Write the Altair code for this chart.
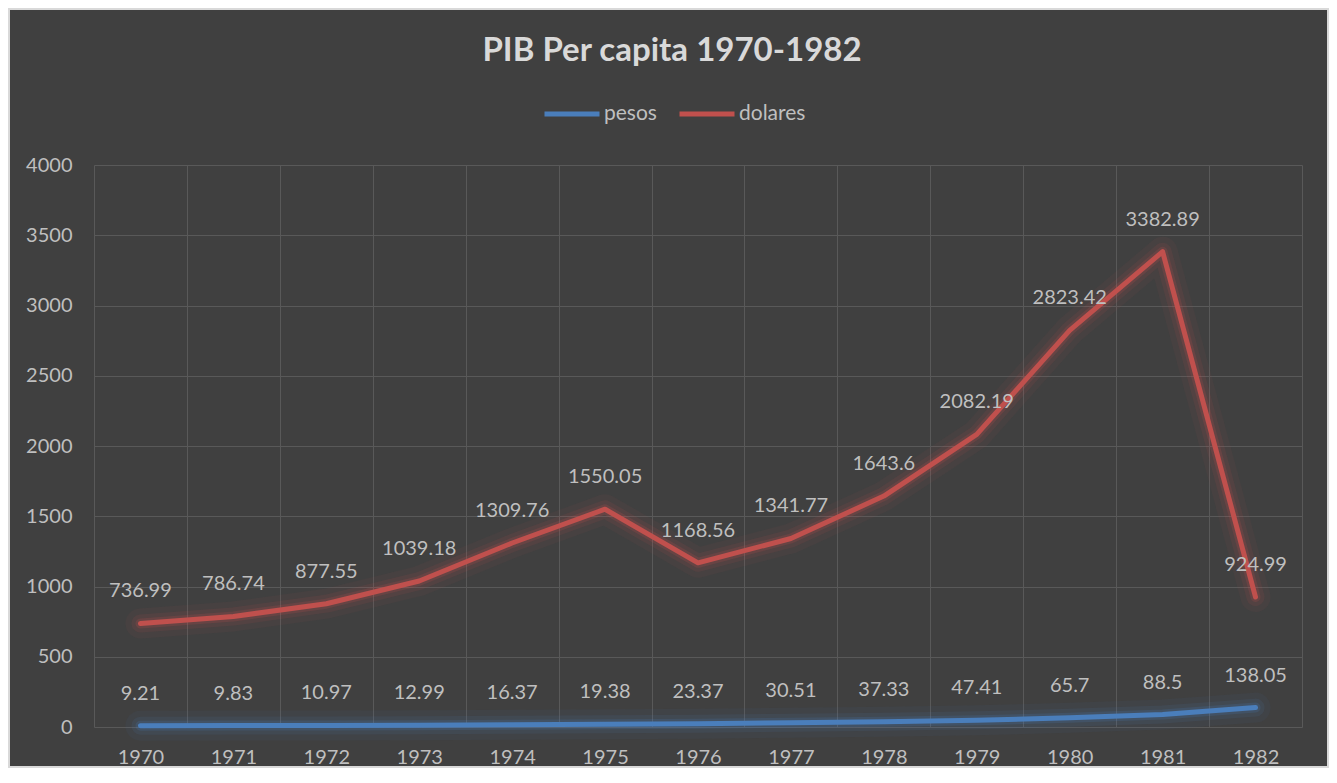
import altair as alt
import pandas as pd

years = [str(y) for y in range(1970, 1983)]
pesos = [9.21, 9.83, 10.97, 12.99, 16.37, 19.38, 23.37, 30.51, 37.33, 47.41, 65.7, 88.5, 138.05]
dolares = [736.99, 786.74, 877.55, 1039.18, 1309.76, 1550.05, 1168.56, 1341.77, 1643.6, 2082.19, 2823.42, 3382.89, 924.99]
series_names = ["pesos", "dolares"]
series_colors = ["#4a7ebb", "#c0504d"]
y_ticks = list(range(0, 4001, 500))

rows = []
for name, vals in zip(series_names, [pesos, dolares]):
    for yr, v in zip(years, vals):
        rows.append({"year": yr, "series": name, "value": v, "label": str(v)})
df = pd.DataFrame(rows)

FONT = "Lato"
TXT = "#bfbfbf"
GRID = "#595959"
W, H = 1208, 562

x = alt.X(
    "year:O",
    sort=years,
    scale=alt.Scale(type="band", paddingInner=0, paddingOuter=0),
    axis=alt.Axis(
        title=None, tickBand="extent", labelAngle=0, ticks=False, domain=False,
        grid=True, gridColor=GRID, gridWidth=1, labelColor=TXT, labelFont=FONT,
        labelFontSize=20, labelPadding=20,
    ),
)
y = alt.Y(
    "value:Q",
    scale=alt.Scale(domain=[0, 4000], nice=False),
    axis=alt.Axis(
        values=y_ticks, format="d", title=None, ticks=False, domain=False, gridColor=GRID,
        gridWidth=1, labelColor=TXT, labelFont=FONT, labelFontSize=20, labelPadding=22,
    ),
)
color = alt.Color(
    "series:N",
    scale=alt.Scale(domain=series_names, range=series_colors),
    legend=alt.Legend(
        orient="none", legendX=448, legendY=-81, direction="horizontal", title=None,
        symbolType="stroke", symbolSize=3025, symbolStrokeWidth=5, symbolOpacity=1,
        labelFont=FONT, labelFontSize=21, labelColor=TXT, labelOffset=2,
        columnPadding=12,
    ),
)

base = alt.Chart(df)

glow1 = base.mark_line(strokeWidth=30, opacity=0.06, strokeCap="round", strokeJoin="round").encode(x=x, y=y, color=color)
glow2 = base.mark_line(strokeWidth=18, opacity=0.1, strokeCap="round", strokeJoin="round").encode(x=x, y=y, color=color)
glow3 = base.mark_line(strokeWidth=10, opacity=0.18, strokeCap="round", strokeJoin="round").encode(x=x, y=y, color=color)
line = base.mark_line(strokeWidth=5, strokeCap="round", strokeJoin="round").encode(x=x, y=y, color=color)
labels = base.mark_text(dy=-32, font=FONT, fontSize=20, color=TXT).encode(
    x=x, y=y, text="label:N"
)

border = alt.Chart(pd.DataFrame({"b": [0]})).mark_rect(
    fill="transparent", stroke="#d9d9d9", strokeWidth=2
).encode(
    x=alt.value(-85), x2=alt.value(1234), y=alt.value(-156), y2=alt.value(602)
)

chart = alt.layer(glow1, glow2, glow3, line, labels, border).properties(
    width=W,
    height=H,
    title=alt.TitleParams(
        "PIB Per capita 1970-1982", font=FONT, fontSize=33, fontWeight="bold",
        color="#d9d9d9", anchor="middle", offset=-60, dx=-26,
    ),
    autosize=alt.AutoSizeParams(type="none"),
    padding={"left": 86, "top": 157, "right": 27, "bottom": 41},
).configure(background="#404040").configure_view(stroke=None)

chart.save("out.html", embed_options={"renderer": "svg", "actions": False})
